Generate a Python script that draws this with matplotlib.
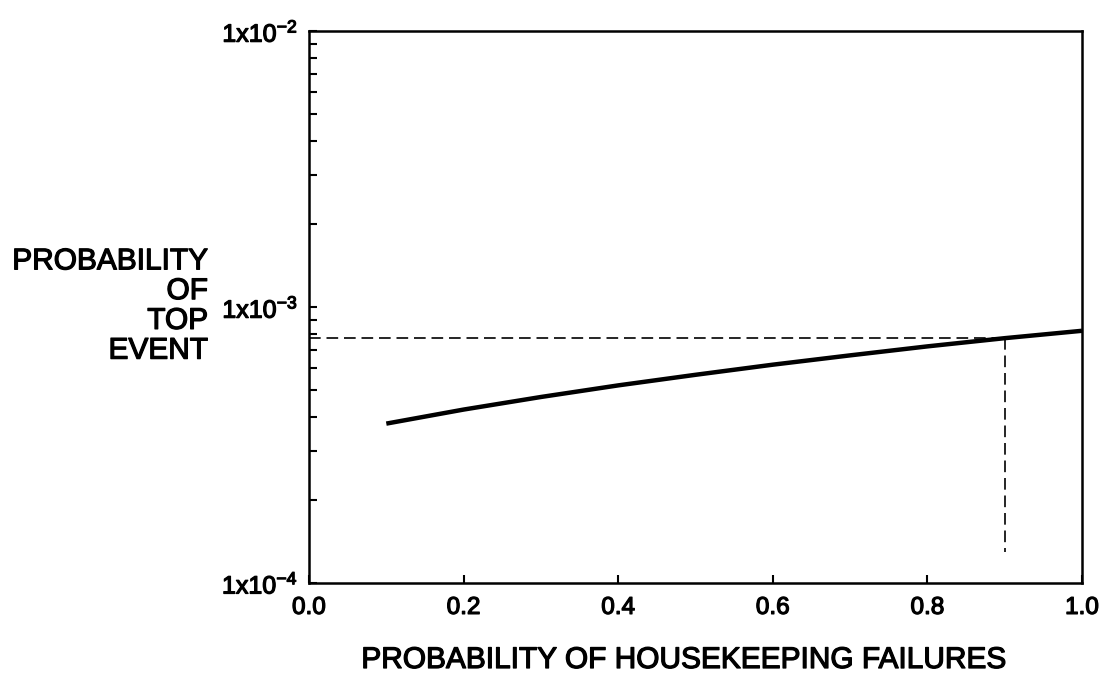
import matplotlib
matplotlib.use("Agg")
import matplotlib.pyplot as plt
import matplotlib.patheffects as pe
from matplotlib.ticker import LogLocator, FixedLocator, FixedFormatter, NullFormatter

plt.rcParams['font.family'] = ['Liberation Sans', 'DejaVu Sans']
plt.rcParams['mathtext.fontset'] = 'custom'
plt.rcParams['mathtext.rm'] = 'Liberation Sans'

# Data
housekeeping_prob = [0.1, 0.2, 0.3, 0.4, 0.5, 0.6, 0.7, 0.8, 0.9, 1.0]
top_event_prob = [3.78e-4, 4.25e-4, 4.72e-4, 5.20e-4, 5.68e-4,
                  6.18e-4, 6.68e-4, 7.20e-4, 7.71e-4, 8.20e-4]
ref_x = 0.9
ref_y = 7.71e-4
ref_y_bottom = 1.3e-4

x_ticks = [0.0, 0.2, 0.4, 0.6, 0.8, 1.0]
x_tick_labels = ["0.0", "0.2", "0.4", "0.6", "0.8", "1.0"]
y_ticks = [1e-4, 1e-3, 1e-2]
y_tick_labels = [r"$\mathregular{1x10^{-4}}$", r"$\mathregular{1x10^{-3}}$", r"$\mathregular{1x10^{-2}}$"]

thick = [pe.withStroke(linewidth=0.9, foreground='black')]

fig = plt.figure(figsize=(11.02, 6.84), dpi=100)
ax = fig.add_axes([309/1102, 1 - 583/684, (1082 - 309)/1102, (583 - 31)/684])

ax.plot(housekeeping_prob, top_event_prob, color='black', lw=3.2, solid_capstyle='butt')
ax.plot([0.0, ref_x], [ref_y, ref_y], color='black', lw=1.2, dashes=(7, 3.5))
ax.plot([ref_x, ref_x], [ref_y, ref_y_bottom], color='black', lw=1.2, dashes=(7, 3.5))

ax.set_yscale('log')
ax.set_xlim(0.0, 1.0)
ax.set_ylim(1e-4, 1e-2)

ax.xaxis.set_major_locator(FixedLocator(x_ticks))
ax.xaxis.set_major_formatter(FixedFormatter(x_tick_labels))
ax.yaxis.set_major_locator(FixedLocator(y_ticks))
ax.yaxis.set_major_formatter(FixedFormatter(y_tick_labels))
ax.yaxis.set_minor_locator(LogLocator(base=10, subs=[2, 3, 4, 5, 6, 7, 8, 9]))
ax.yaxis.set_minor_formatter(NullFormatter())

for s in ax.spines.values():
    s.set_linewidth(1.8)

ax.tick_params(axis='both', which='both', direction='in', width=1.5,
               top=False, right=False)
ax.tick_params(axis='x', which='major', length=6, labelsize=17.5, pad=10)
ax.tick_params(axis='y', which='major', length=6, labelsize=18, pad=8)
ax.tick_params(axis='y', which='minor', length=6)

for lab in ax.get_xticklabels() + ax.get_yticklabels():
    lab.set_path_effects(thick)

fig.text(208/1102, 1 - 306/684, "PROBABILITY\nOF\nTOP\nEVENT", ha='right', va='center',
         fontsize=21.5, linespacing=1.08, path_effects=thick)
fig.text(684/1102, 1 - 660/684, "PROBABILITY OF HOUSEKEEPING FAILURES",
         ha='center', va='center', fontsize=21.5, path_effects=thick)

fig.savefig("out.png", dpi=100)
